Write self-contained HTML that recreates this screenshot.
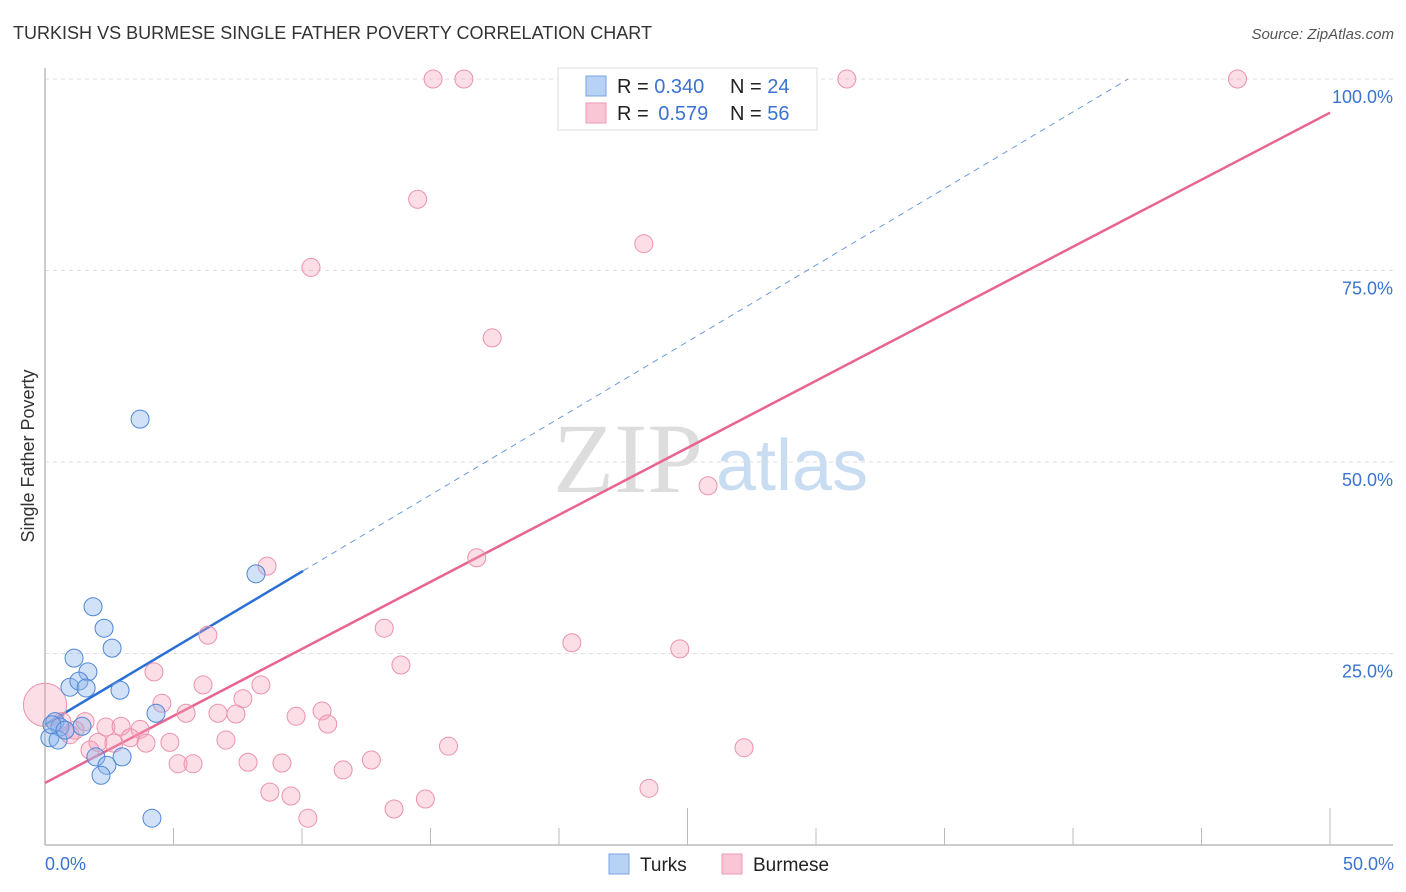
<!DOCTYPE html>
<html><head><meta charset="utf-8"><style>
body{margin:0;background:#fff;font-family:"Liberation Sans",sans-serif}
svg{display:block}
</style></head><body>
<svg id="chart" width="1406" height="892">
<text x="13" y="39" font-size="18" fill="#333" textLength="639">TURKISH VS BURMESE SINGLE FATHER POVERTY CORRELATION CHART</text>
<text x="1394" y="39" font-size="15" fill="#555" font-style="italic" text-anchor="end">Source: ZipAtlas.com</text>
<text x="553" y="492" font-size="100" fill="#ddd" font-family="Liberation Serif,serif">ZIP</text>
<text x="716" y="490" font-size="72" fill="#c8dcf2">atlas</text>
<g id="grid"></g>
<g id="axes"></g>
<g id="lines"></g>
<g id="points"></g>
<text transform="translate(34,456) rotate(-90)" font-size="18" fill="#333" text-anchor="middle">Single Father Poverty</text>
<text x="45" y="870" font-size="18" fill="#3a73d1">0.0%</text>
<text x="1394" y="870" font-size="18" fill="#3a73d1" text-anchor="end">50.0%</text>
<g>
<rect x="558" y="68" width="259" height="62" fill="#fff" stroke="#ddd"/>
<rect x="586" y="76" width="20" height="20" fill="#b7d2f5" stroke="#7aa5e0"/>
<rect x="586" y="103" width="20" height="20" fill="#f9c6d6" stroke="#ee9ab5"/>
<text x="617" y="93" font-size="20" fill="#222">R = <tspan fill="#3a73d1">0.340</tspan></text>
<text x="730" y="93" font-size="20" fill="#222">N = <tspan fill="#3a73d1">24</tspan></text>
<text x="617" y="120" font-size="20" fill="#222">R = <tspan fill="#3a73d1" dx="4">0.579</tspan></text>
<text x="730" y="120" font-size="20" fill="#222">N = <tspan fill="#3a73d1">56</tspan></text>
</g>
<g>
<rect x="609" y="854" width="20" height="20" fill="#b7d2f5" stroke="#7aa5e0"/>
<text x="640" y="871" font-size="19" fill="#222">Turks</text>
<rect x="722" y="854" width="20" height="20" fill="#f9c6d6" stroke="#ee9ab5"/>
<text x="753" y="871" font-size="19" fill="#222">Burmese</text>
</g>
</svg>
<script>
const yTicks=[25,50,75,100];
const yTickLabels=["25.0%","50.0%","75.0%","100.0%"];
const xTicks=[0,5,10,15,20,25,30,35,40,45,50];
const turksX=[3.70,8.21,1.87,2.30,2.61,1.13,1.67,0.97,1.32,1.60,2.92,4.32,0.39,0.58,1.44,0.19,0.51,1.98,3.00,2.41,2.18,4.16,0.27,0.78];
const turksY=[55.6,35.4,31.1,28.3,25.7,24.4,22.6,20.6,21.4,20.5,20.2,17.2,16.1,15.4,15.5,14.0,13.7,11.5,11.5,10.4,9.1,3.5,15.7,15.0];
const burmX=[15.1,16.3,31.2,46.4,14.5,23.3,10.35,17.4,25.8,8.64,16.8,13.2,20.5,24.7,6.34,4.24,13.85,6.15,8.4,4.55,7.7,5.49,6.73,7.43,9.77,10.78,11.0,2.37,2.96,3.7,3.31,2.06,2.68,3.93,4.86,7.04,15.7,27.2,1.75,5.18,5.76,7.9,9.22,11.6,12.7,8.75,9.57,10.23,13.58,14.8,23.5,0,0.66,1.17,1.56,0.97];
const burmY=[100,100,100,100,84.3,78.5,75.4,66.2,46.9,36.4,37.5,28.3,26.4,25.6,27.4,22.6,23.5,20.9,20.9,18.5,19.1,17.2,17.2,17.1,16.8,17.5,15.8,15.4,15.5,15.1,14.0,13.4,13.3,13.3,13.4,13.7,12.9,12.7,12.4,10.6,10.6,10.8,10.7,9.8,11.1,6.9,6.4,3.5,4.7,6.0,7.4,18.3,16.1,15.0,16.1,14.4];
const burmSize=[1,1,1,1,1,1,1,1,1,1,1,1,1,1,1,1,1,1,1,1,1,1,1,1,1,1,1,1,1,1,1,1,1,1,1,1,1,1,1,1,1,1,1,1,1,1,1,1,1,1,1,2.4,1,1,1,1];
const turksFit=[15.7,2.0];
const burmFit=[8.1,1.75];
const NS="http://www.w3.org/2000/svg";
const sx=v=>45+v*25.7, sy=v=>845-v*7.66;
function mk(tag,parent,attrs){const e=document.createElementNS(NS,tag);for(const k in attrs)e.setAttribute(k,attrs[k]);document.getElementById(parent).appendChild(e);return e;}
yTicks.forEach((t,i)=>{
 const l=mk('line','grid',{x1:45,x2:1393,y1:sy(t),y2:sy(t),stroke:'#ddd','stroke-dasharray':'4,4'});
 
 
 const tx=mk('text','grid',{x:1393,y:sy(t)+24,'font-size':18,fill:'#3a73d1','text-anchor':'end'});
 tx.textContent=yTickLabels[i];
 
 
});
const ax=mk('line','axes',{x1:45,x2:1393,y1:845,y2:845,stroke:'#bbb','stroke-width':1.5});


const ay=mk('line','axes',{x1:45,x2:45,y1:68,y2:845,stroke:'#bbb','stroke-width':1.5});


xTicks.forEach((t,i)=>{
 const big=(i===5||i===10);
 const l=mk('line','axes',{x1:sx(t),x2:sx(t),y1:big?808:828,y2:845,stroke:'#bbb'});
 
 
});
const bx2=10.04;
let l1=mk('line','lines',{x1:sx(0),y1:sy(turksFit[0]),x2:sx(bx2),y2:sy(turksFit[0]+turksFit[1]*bx2),stroke:'#2a6fd6','stroke-width':2.5});


const bx3=(100-turksFit[0])/turksFit[1];
let l2=mk('line','lines',{x1:sx(bx2),y1:sy(turksFit[0]+turksFit[1]*bx2),x2:sx(bx3),y2:sy(100),stroke:'#6a9be0','stroke-width':1,'stroke-dasharray':'6,5'});


let l3=mk('line','lines',{x1:sx(0),y1:sy(burmFit[0]),x2:sx(50),y2:sy(burmFit[0]+burmFit[1]*50),stroke:'#e8658f','stroke-width':2.5});


burmX.forEach((x,i)=>{
 const c=mk('circle','points',{cx:sx(x),cy:sy(burmY[i]),r:9*burmSize[i],fill:'rgba(245,160,185,0.35)',stroke:'#ec92ae','stroke-width':1});
 
 
});
turksX.forEach((x,i)=>{
 const c=mk('circle','points',{cx:sx(x),cy:sy(turksY[i]),r:9,fill:'rgba(140,180,235,0.4)',stroke:'#4f86d8','stroke-width':1});
 
 
});
</script>
</body></html>
